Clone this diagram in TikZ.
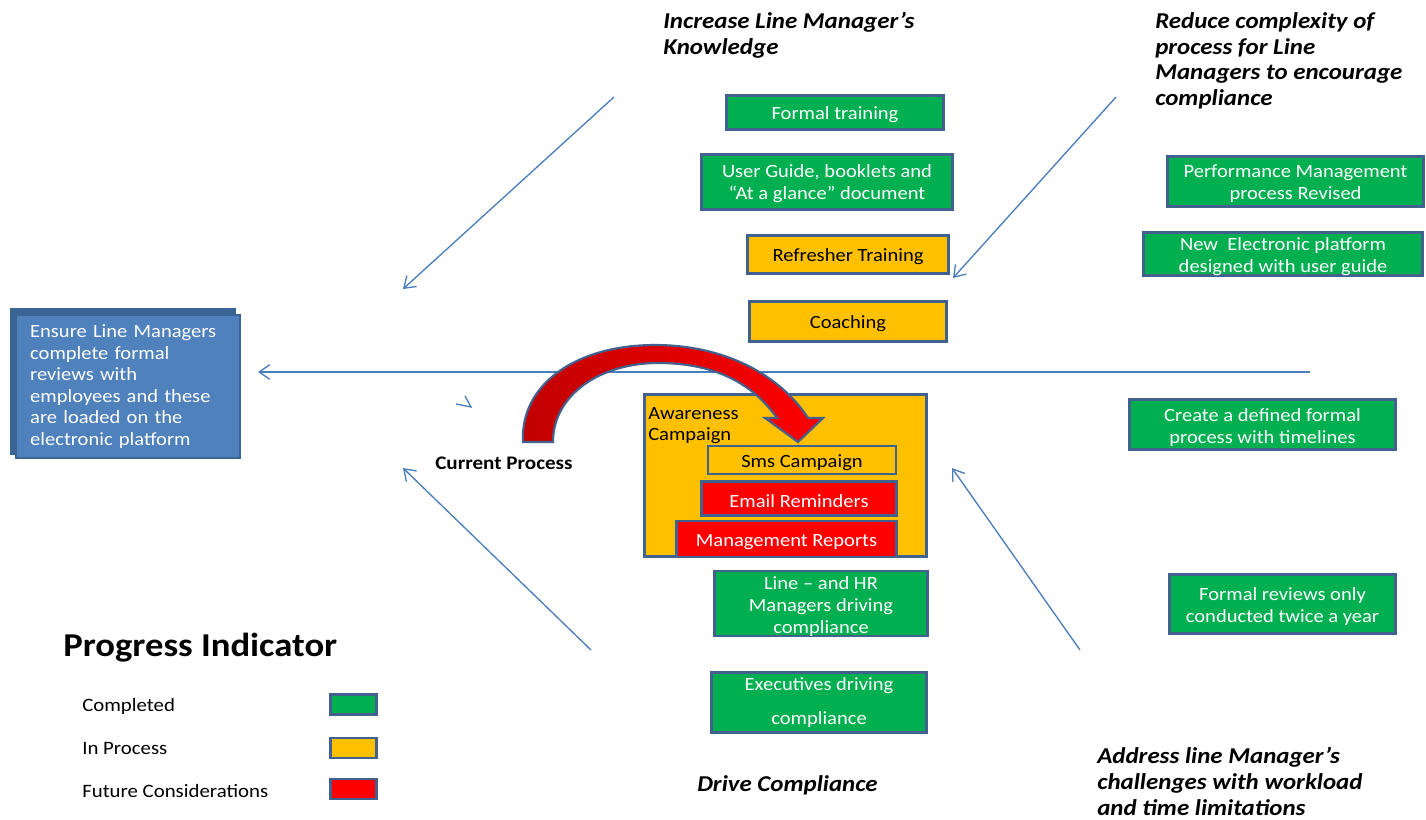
\documentclass[tikz,border=0pt]{standalone}
\usepackage{fontspec}
\setmainfont[FakeStretch=1.1]{Carlito}
\usetikzlibrary{arrows.meta}
\definecolor{gfill}{HTML}{00B050}
\definecolor{yfill}{HTML}{FFC000}
\definecolor{rfill}{HTML}{FF0000}
\definecolor{bord}{HTML}{41618F}
\definecolor{bfill}{HTML}{4F81BD}
\definecolor{bdark}{HTML}{3A6494}
\definecolor{lineblue}{HTML}{4A7EBB}
\definecolor{dred}{HTML}{C00000}
\begin{document}
\begin{tikzpicture}[x=0.75pt,y=-0.75pt,
  box/.style={draw=bord, line width=2.2pt, align=center, inner sep=0pt, font=\fontsize{14}{16.5}\selectfont,
    execute at begin node={\rule{0pt}{13.5pt}}},
  gbox/.style={box, fill=gfill, text=white},
  ybox/.style={box, fill=yfill, text=black},
  rbox/.style={box, fill=rfill, text=white},
  lbox/.style={draw=bord, line width=2.2pt, inner sep=0pt, minimum width=34.5pt, minimum height=15pt},
  conn/.style={draw=lineblue, line width=1pt, -{Straight Barb[length=8pt,width=11pt]}},
  head/.style={font=\fontsize{17}{19.4}\selectfont\bfseries\itshape, align=left, anchor=north west, inner sep=0pt},
  lab/.style={font=\fontsize{14.2}{16.5}\selectfont, anchor=base west, inner sep=0pt}]
\useasboundingbox (0,0) rectangle (1426,819);

% connectors
\coordinate (a1s) at (614,97);  \coordinate (a1e) at (403,289);
\coordinate (a2s) at (1116,97); \coordinate (a2e) at (953,278);
\coordinate (a3s) at (591,650); \coordinate (a3e) at (403,468);
\coordinate (a4s) at (1080,650); \coordinate (a4e) at (952,468);
\coordinate (hs) at (1310,372); \coordinate (he) at (258,372);
\draw[conn] (a1s) -- (a1e);
\draw[conn] (a2s) -- (a2e);
\draw[conn] (a3s) -- (a3e);
\draw[conn] (a4s) -- (a4e);
\draw[conn] (hs) -- (he);
\draw[lineblue, line width=1pt] (465,396) -- (471,407) -- (456,404);

% goal box
\fill[bdark] (10,308) rectangle (236,455);
\node[draw=bdark, line width=1.5pt, fill=bfill, text=white, align=left, inner sep=0pt,
  minimum width=168pt, minimum height=107pt, text width=146pt,
  font=\fontsize{14}{16.2}\selectfont] (goal) at (127.5,386.5)
  {Ensure Line Managers\\complete formal\\reviews with\\employees and these\\are loaded on the\\electronic platform};

% headings
\node[head] (h1) at (663,12) {Increase Line Manager’s\\Knowledge};
\node[head] (h2) at (1155,12) {Reduce complexity of\\process for Line\\Managers to encourage\\compliance};
\node[head] (h3) at (697,775) {Drive Compliance};
\node[head] (h4) at (1097,747) {Address line Manager’s\\challenges with workload\\and time limitations};

% center boxes
\node[gbox, minimum width=163pt, minimum height=26pt] (ft) at (835,112.5) {Formal training};
\node[gbox, minimum width=188.5pt, minimum height=41.5pt] (ug) at (827,182) {\\[-4pt]User Guide, booklets and\\“At a glance” document};
\node[ybox, minimum width=151pt, minimum height=29pt] (rt) at (848,254.5) {Refresher Training};
\node[ybox, minimum width=148pt, minimum height=30.5pt] (co) at (848,321.5) {Coaching};

% right boxes
\node[gbox, minimum width=192pt, minimum height=38pt] (pm) at (1295.5,181.5) {\\[-4pt]Performance Management\\process Revised};
\node[gbox, minimum width=209.5pt, minimum height=32.5pt] (ne) at (1283,254) {\\[-3pt]New\ \ Electronic platform\\designed with user guide};
\node[gbox, minimum width=200pt, minimum height=38pt] (cd) at (1262.5,424.5) {\\[-3pt]Create a defined formal\\process with timelines};
\node[gbox, minimum width=170pt, minimum height=44.5pt] (fr) at (1282.5,604) {\\[-3pt]Formal reviews only\\conducted twice a year};

% awareness campaign
\node[ybox, minimum width=212pt, minimum height=122pt, execute at begin node={}] (aw) at (785.5,475.5) {};
\node[anchor=north west, inner sep=0pt, align=left, font=\fontsize{14}{15.75}\selectfont] (awt) at (648,407) {Awareness\\Campaign};
\node[ybox, minimum width=141pt, minimum height=21pt] (sms) at (802,460) {Sms Campaign};
\node[rbox, minimum width=146.5pt, minimum height=26pt] (em) at (799,498.5) {Email Reminders};
\node[rbox, minimum width=165.5pt, minimum height=27pt] (mr) at (786.5,539) {Management Reports};

% compliance boxes
\node[gbox, minimum width=160pt, minimum height=44pt] (lh) at (821,603.5) {\\[-3pt]Line – and HR\\Managers driving\\compliance};
\node[gbox, minimum width=161.5pt, minimum height=45.5pt] (ex) at (819,702.5) {Executives driving\\[9.5pt]compliance};

% red curved arrow
\path[left color=dred, right color=rfill, draw=bord, line width=1.6pt, line join=miter]
  (523,442) .. controls (520,385) and (575,345) .. (655,345)
  .. controls (725,345) and (780,375) .. (808,418)
  -- (823,418) -- (798,442) -- (765,418) -- (777,418)
  .. controls (750,380) and (710,363) .. (658,363)
  .. controls (600,363) and (553,395) .. (553,442) -- cycle;
\node[font=\fontsize{14.4}{16}\selectfont\bfseries, anchor=base west, inner sep=0pt] (cp) at (435,469) {Current Process};

% legend
\node[font=\fontsize{25}{28}\selectfont\bfseries, anchor=base west, inner sep=0pt] (pi) at (63,656) {Progress Indicator};
\node[lab] (l1) at (82,711) {Completed};
\node[lab] (l2) at (82,754) {In Process};
\node[lab] (l3) at (82,797) {Future Considerations};
\node[lbox, fill=gfill] (k1) at (353.5,704.5) {};
\node[lbox, fill=yfill] (k2) at (353.5,748) {};
\node[lbox, fill=rfill] (k3) at (353.5,789) {};
\end{tikzpicture}
\end{document}
